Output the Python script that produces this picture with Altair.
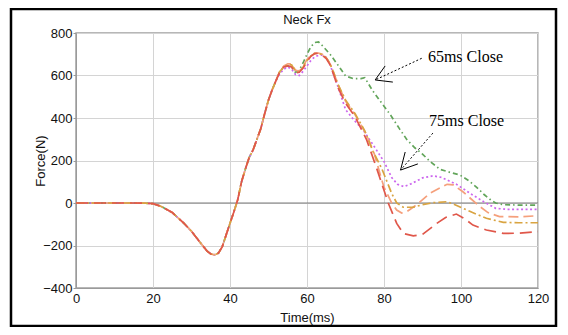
import altair as alt
import pandas as pd

# ---- data ----
T_COMMON = [0, 5, 10, 15, 18, 20, 22, 25, 28, 30, 32, 34, 35, 36, 37, 38, 39, 40, 41, 42,
            43, 44, 45, 46, 47, 48, 49, 50, 51, 52]
F_COMMON = [0, 0, 0, 0, -1, -3, -15, -45, -95, -133, -180, -225, -240, -244, -236, -205, -150,
            -95, -42, 15, 100, 160, 215, 250, 300, 350, 420, 485, 535, 578]

SERIES = ["65ms Close", "75ms Close", "Case C", "Case D", "Case E"]
COLORS = ["#62a55a", "#cc66ee", "#f5a07c", "#d9a441", "#e0574a"]
DASHES = [[5, 3, 1.5, 3], [2, 2.5], [10, 5], [8, 3, 2, 3], [12, 6]]

T_65 = [53, 54, 55, 56, 57, 58, 59, 60, 61, 62, 63, 64, 65, 66, 68, 70, 72, 74, 75, 77, 79,
        81.7, 84, 86, 88, 90, 92, 94.6, 97, 99.7, 102, 104, 106, 108, 109, 111, 115, 120]
F_65 = [620, 640, 645, 640, 615, 625, 660, 700, 735, 755, 758, 740, 720, 700, 650, 598, 585,
        585, 590, 530, 480, 414, 350, 297, 260, 230, 195, 158, 145, 132, 105, 75, 40, 10, 0,
        -8, -10, -10]

T_75 = [53, 54, 55, 56, 57, 58, 59, 60, 61, 62, 63, 64, 65, 66, 68, 70, 72, 74.6, 77.2, 80,
        82, 83.5, 85.2, 87, 90, 92.8, 95, 98.8, 101, 103, 106, 109, 112, 120]
F_75 = [610, 630, 640, 630, 605, 600, 620, 645, 670, 688, 695, 696, 685, 650, 550, 440, 395,
        343, 273, 195, 120, 88, 77, 90, 118, 128, 120, 88, 62, 38, 5, -25, -30, -30]

T_C = [53, 54, 55, 56, 57, 58, 59, 60, 61, 62, 63, 64, 65, 66, 67, 68, 70, 72.5, 75.5, 77.5,
       79.4, 80, 82, 83.3, 84.6, 86, 88.5, 92, 96.4, 98, 100.5, 104.9, 107, 110, 115, 120]
F_C = [625, 645, 655, 655, 625, 620, 645, 675, 695, 705, 705, 700, 685, 655, 610, 560, 480,
       415, 320, 230, 110, 75, 0, -33, -47, -40, -8, 47, 88, 85, 53, -17, -45, -64, -65, -60]

T_D = [53, 54, 55, 56, 57, 58, 59, 60, 61, 62, 63, 64, 65, 66, 67, 68, 70, 72.5, 75, 77.2,
       79.4, 82, 83.3, 85, 87.6, 90, 93, 96.4, 98, 100.5, 103, 106.6, 111, 115, 120]
F_D = [620, 640, 650, 650, 620, 615, 640, 670, 692, 703, 704, 698, 683, 655, 610, 560, 485,
       420, 340, 241, 163, 45, 0, -20, -20, -8, 2, 6, -5, -25, -45, -72, -91, -93, -93]

T_E = [53, 54, 55, 56, 57, 58, 59, 60, 61, 62, 63, 64, 65, 66, 67, 68, 70, 72.5, 75.5, 78.1,
       81.1, 83.3, 85, 87.6, 90, 93.7, 96, 98.8, 101, 103.1, 106.6, 111, 115, 120]
F_E = [620, 640, 645, 640, 612, 615, 635, 665, 690, 703, 705, 695, 680, 650, 600, 545, 470,
       406, 297, 163, 0, -96, -143, -155, -148, -96, -68, -52, -75, -104, -127, -143, -142, -135]

X_TICKS = list(range(0, 121, 10))
Y_TICKS = list(range(-400, 801, 100))

CHART_TITLE = "Neck Fx"

# annotations (data units)
NOTE_TEXT = ["65ms Close", "75ms Close"]
NOTE_T = [91.4, 91.7]
NOTE_F = [664, 362]
ARROW_T = [89.8, 92.7]
ARROW_F = [681, 329]
TIP_T = [77.7, 84.3]
TIP_F = [579, 155]
BARB_T = [80.3, 82.3, 85.5, 88.8]
BARB_F = [645, 569, 240, 184]
BARB_TIP_T = [77.7, 77.7, 84.3, 84.3]
BARB_TIP_F = [579, 579, 155, 155]

# ---- build tables ----
rows = []
for name, ts, fs in zip(SERIES, [T_65, T_75, T_C, T_D, T_E], [F_65, F_75, F_C, F_D, F_E]):
    for t, f in zip(T_COMMON + ts, F_COMMON + fs):
        rows.append({"series": name, "t": t, "f": f})
df = pd.DataFrame(rows)

notes = pd.DataFrame({"text": NOTE_TEXT, "t": NOTE_T, "f": NOTE_F})
shafts = pd.DataFrame({"t": ARROW_T, "f": ARROW_F, "t2": TIP_T, "f2": TIP_F})
barbs = pd.DataFrame({"t": BARB_T, "f": BARB_F, "t2": BARB_TIP_T, "f2": BARB_TIP_F})

FONT = "Liberation Sans"
xscale = alt.Scale(domain=[0, 120], nice=False, zero=False)
yscale = alt.Scale(domain=[-400, 800], nice=False, zero=False)

x_axis = alt.Axis(values=X_TICKS, labelExpr="datum.value % 20 === 0 ? datum.label : ''",
                  grid=True, gridColor="#d4d4d4", ticks=False, domainColor="#9a9a9a",
                  labelFont=FONT, labelFontSize=13, labelColor="#111111", labelPadding=4,
                  labelFlush=False, labelOverlap=False,
                  title="Time(ms)", titleFont=FONT, titleFontSize=13, titleFontWeight="normal",
                  titleColor="#111111", titleY=29, titleBaseline="middle")
y_axis = alt.Axis(values=Y_TICKS, labelExpr="datum.value % 200 === 0 ? datum.label : ''",
                  grid=True, gridColor="#d4d4d4", tickSize=3, tickColor="#9a9a9a",
                  domainColor="#9a9a9a", labelFont=FONT, labelFontSize=13,
                  labelColor="#111111", labelPadding=1, labelFlush=False, labelOverlap=False,
                  title="Force(N)", titleFont=FONT, titleFontSize=13, titleFontWeight="normal",
                  titleColor="#111111", titleX=-36, titleY=127.5, titleBaseline="middle",
                  titleAngle=270)

lines = alt.Chart(df).mark_line(strokeWidth=1.7, clip=True).encode(
    x=alt.X("t:Q", scale=xscale, axis=x_axis),
    y=alt.Y("f:Q", scale=yscale, axis=y_axis),
    color=alt.Color("series:N", scale=alt.Scale(domain=SERIES, range=COLORS), legend=None),
    strokeDash=alt.StrokeDash("series:N", scale=alt.Scale(domain=SERIES, range=DASHES),
                              legend=None),
)

zero = alt.Chart(pd.DataFrame({"v": [0]})).mark_rule(color="#7a7a7a", strokeWidth=1).encode(
    y=alt.Y("v:Q", scale=yscale))

shaft = alt.Chart(shafts).mark_rule(color="black", strokeWidth=1, strokeDash=[2, 2]).encode(
    x=alt.X("t:Q", scale=xscale), y=alt.Y("f:Q", scale=yscale), x2="t2:Q", y2="f2:Q")
barb = alt.Chart(barbs).mark_rule(color="black", strokeWidth=1).encode(
    x=alt.X("t:Q", scale=xscale), y=alt.Y("f:Q", scale=yscale), x2="t2:Q", y2="f2:Q")

text = alt.Chart(notes).mark_text(align="left", baseline="alphabetic", font="Liberation Serif",
                                  fontSize=16, color="black").encode(
    x=alt.X("t:Q", scale=xscale), y=alt.Y("f:Q", scale=yscale), text="text:N")

title = alt.Chart(pd.DataFrame({"text": [CHART_TITLE]})).mark_text(
    align="center", baseline="middle", font=FONT, fontSize=13, color="#111111").encode(
    x=alt.value(231), y=alt.value(-13), text="text:N")

frame = alt.Chart(pd.DataFrame({"a": [0]})).mark_rect(
    filled=False, stroke="black", strokeWidth=2.5).encode(
    x=alt.value(-65), x2=alt.value(480), y=alt.value(-24), y2=alt.value(293))

chart = alt.layer(zero, lines, shaft, barb, text, title, frame).properties(
    width=462, height=255,
    autosize=alt.AutoSizeParams(type="none"),
    padding={"left": 68, "top": 25, "right": 22, "bottom": 39},
    background="white",
).configure_view(stroke="#a0a0a0", strokeWidth=1.5)

chart.save("out.html", embed_options={"renderer": "svg", "actions": False})
